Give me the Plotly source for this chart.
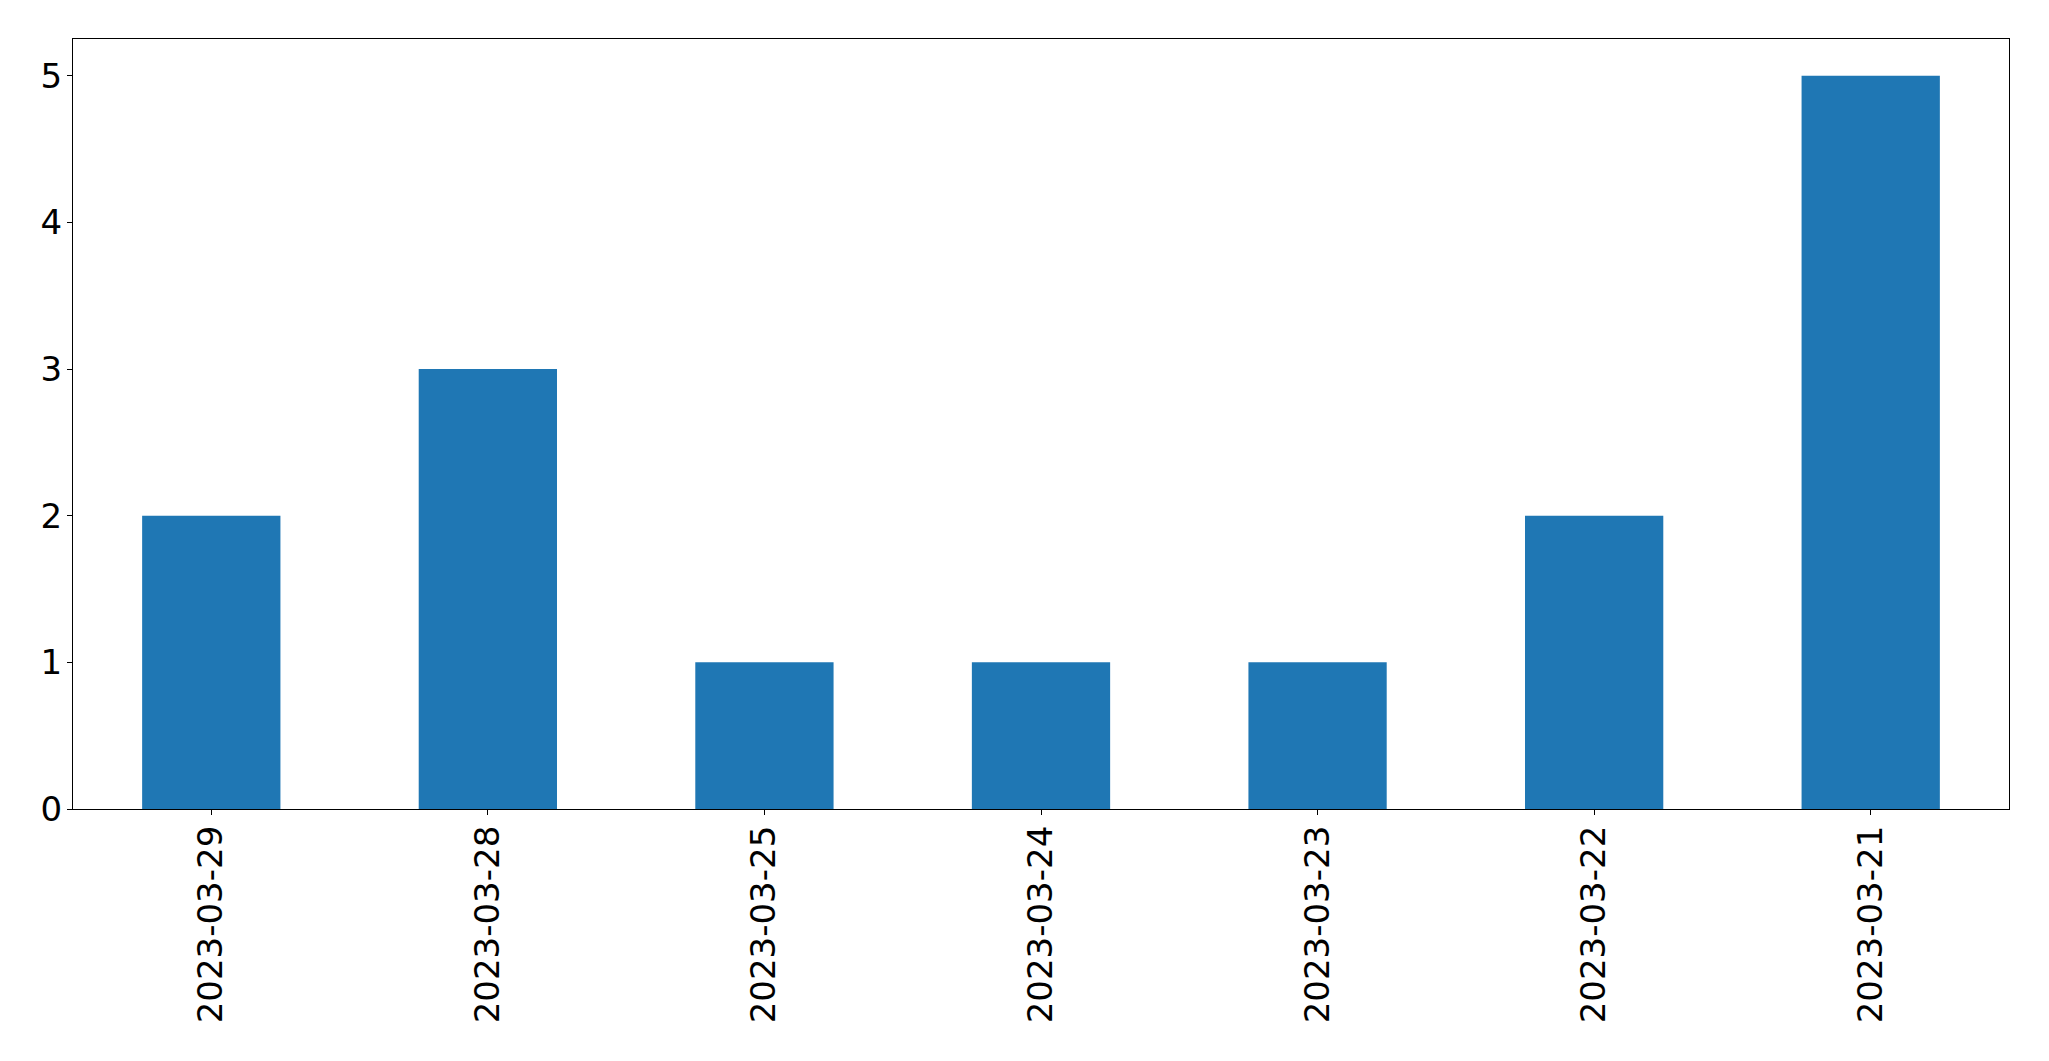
import plotly.graph_objects as go

dates = ["2023-03-29", "2023-03-28", "2023-03-25", "2023-03-24", "2023-03-23", "2023-03-22", "2023-03-21"]
counts = [2, 3, 1, 1, 1, 2, 5]
y_ticks = [0, 1, 2, 3, 4, 5]

fig = go.Figure(go.Bar(x=dates, y=counts, width=0.5, marker=dict(color="#1f77b4", line=dict(width=0))))

# page body has an 8px default margin; size figure to fit the 2049x1061 window exactly
W, H = 2033, 1045
fig.update_layout(
    width=W, height=H,
    margin=dict(l=65, r=32, t=31, b=244, pad=0),
    plot_bgcolor="white", paper_bgcolor="white",
    font=dict(family="DejaVu Sans", size=34, color="black"),
    showlegend=False,
)
fig.update_xaxes(
    type="category", range=[-0.5, 6.5], tickangle=-90, automargin=False,
    showline=True, linecolor="black", linewidth=1.3, mirror=True,
    ticks="outside", ticklen=5, tickwidth=1.3, tickcolor="black",
    showgrid=False, zeroline=False, ticklabelstandoff=-3,
)
fig.update_yaxes(
    range=[0, 5.25], tickvals=y_ticks, automargin=False,
    showline=True, linecolor="black", linewidth=1.3, mirror=True,
    ticks="outside", ticklen=5, tickwidth=1.3, tickcolor="black",
    showgrid=False, zeroline=False, ticklabelstandoff=-2,
)
fig.write_html("out.html")
